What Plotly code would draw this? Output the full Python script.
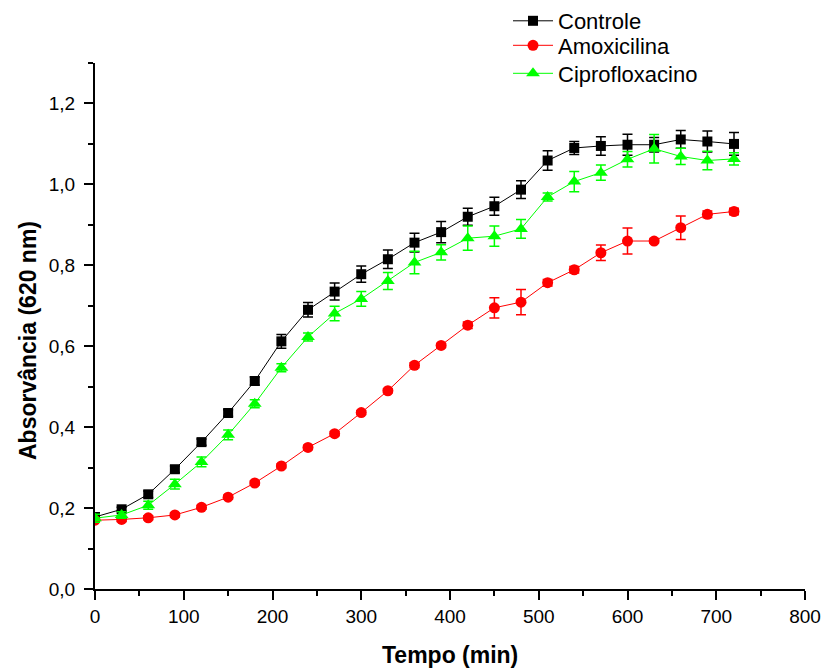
import plotly.graph_objects as go

tempo = list(range(0, 721, 30))

controle = [0.178, 0.197, 0.234, 0.296, 0.363, 0.435, 0.514, 0.612, 0.690, 0.735,
            0.778, 0.815, 0.856, 0.882, 0.920, 0.946, 0.987, 1.059, 1.090, 1.095,
            1.098, 1.098, 1.111, 1.106, 1.100]
controle_err = [0.005, 0.005, 0.008, 0.008, 0.008, 0.008, 0.010, 0.017, 0.018, 0.021,
                0.020, 0.023, 0.023, 0.026, 0.021, 0.022, 0.022, 0.024, 0.016, 0.023,
                0.026, 0.018, 0.022, 0.026, 0.028]

amoxicilina = [0.170, 0.172, 0.176, 0.183, 0.202, 0.227, 0.262, 0.304, 0.350, 0.384,
               0.436, 0.490, 0.553, 0.602, 0.652, 0.695, 0.709, 0.757, 0.789, 0.831,
               0.860, 0.860, 0.893, 0.926, 0.933]
amoxicilina_err = [0.005, 0.005, 0.005, 0.005, 0.005, 0.005, 0.005, 0.005, 0.005, 0.005,
                   0.005, 0.005, 0.006, 0.005, 0.008, 0.025, 0.031, 0.008, 0.008, 0.019,
                   0.032, 0.005, 0.029, 0.008, 0.008]

ciprofloxacino = [0.175, 0.183, 0.207, 0.259, 0.314, 0.381, 0.458, 0.547, 0.623, 0.681,
                  0.717, 0.761, 0.807, 0.832, 0.867, 0.872, 0.890, 0.969, 1.007, 1.029,
                  1.062, 1.088, 1.069, 1.059, 1.063]
ciprofloxacino_err = [0.010, 0.008, 0.010, 0.012, 0.012, 0.012, 0.010, 0.010, 0.010, 0.018,
                      0.018, 0.021, 0.028, 0.019, 0.030, 0.025, 0.023, 0.010, 0.025, 0.019,
                      0.019, 0.035, 0.020, 0.023, 0.015]

x_ticks = [0, 100, 200, 300, 400, 500, 600, 700, 800]
y_ticks = [0.0, 0.2, 0.4, 0.6, 0.8, 1.0, 1.2]
y_tick_labels = ["0,0", "0,2", "0,4", "0,6", "0,8", "1,0", "1,2"]

FONT = "Arial, Liberation Sans, sans-serif"
W, H = 824, 668
ML, MR, MT, MB = 95, 19, 63, 79

series = [
    ("Controle", controle, controle_err, "#000000", "square", 10, "legend", 18),
    ("Amoxicilina", amoxicilina, amoxicilina_err, "#FF0000", "circle", 11, "legend2", 47),
    ("Ciprofloxacino", ciprofloxacino, ciprofloxacino_err, "#00FF00", "triangle-up", 12, "legend3", 75),
]

fig = go.Figure()
legend_layouts = {}
for name, vals, errs, color, symbol, size, leg, row_y in series:
    fig.add_trace(go.Scatter(
        x=tempo, y=vals, name=name, mode="lines+markers", legend=leg,
        line=dict(color=color, width=1),
        marker=dict(symbol=symbol, size=size, color=color, line=dict(width=0)),
        error_y=dict(type="data", array=errs, visible=True, color=color,
                     thickness=1.5, width=5),
    ))
    legend_layouts[leg] = dict(
        xref="container", yref="container",
        x=508 / W, y=1 - (row_y - 22.5) / H, xanchor="left", yanchor="top",
        font=dict(family=FONT, size=22, color="black"),
        bgcolor="rgba(0,0,0,0)", itemwidth=40,
    )

fig.update_layout(
    width=W, height=H,
    margin=dict(l=ML, r=MR, t=MT, b=MB, autoexpand=False),
    paper_bgcolor="white", plot_bgcolor="white",
    font=dict(family=FONT, size=19, color="black"),
    showlegend=True,
    xaxis=dict(
        range=[0, 800], tickvals=x_ticks, ticktext=[str(v) for v in x_ticks],
        showline=True, linecolor="black", linewidth=2, mirror=False,
        ticks="outside", ticklen=9, tickwidth=2, tickcolor="black",
        minor=dict(dtick=50, ticks="outside", ticklen=5, tickwidth=2, tickcolor="black"),
        showgrid=False, zeroline=False,
        tickfont=dict(family=FONT, size=19, color="black"),
    ),
    yaxis=dict(
        range=[0, 1.3], tickvals=y_ticks, ticktext=y_tick_labels,
        showline=True, linecolor="black", linewidth=2, mirror=False,
        ticks="outside", ticklen=9, tickwidth=2, tickcolor="black",
        minor=dict(dtick=0.1, ticks="outside", ticklen=5, tickwidth=2, tickcolor="black"),
        showgrid=False, zeroline=False, ticklabelstandoff=5,
        tickfont=dict(family=FONT, size=19, color="black"),
    ),
    annotations=[
        dict(text="<b>Tempo (min)</b>", xref="paper", yref="paper",
             x=0.5, y=-(655 - (H - MB)) / (H - MT - MB), xanchor="center", yanchor="middle",
             showarrow=False, font=dict(family=FONT, size=23, color="black")),
        dict(text="<b>Absorvância (620 nm)</b>", xref="paper", yref="paper",
             x=-(ML - 28) / (W - ML - MR), y=(H - MB - 341) / (H - MT - MB),
             xanchor="center", yanchor="middle", textangle=-90,
             showarrow=False, font=dict(family=FONT, size=23, color="black")),
    ],
    **legend_layouts,
)

fig.write_html("out.html", config={"displayModeBar": False},
               post_script="document.body.style.margin='0';")
